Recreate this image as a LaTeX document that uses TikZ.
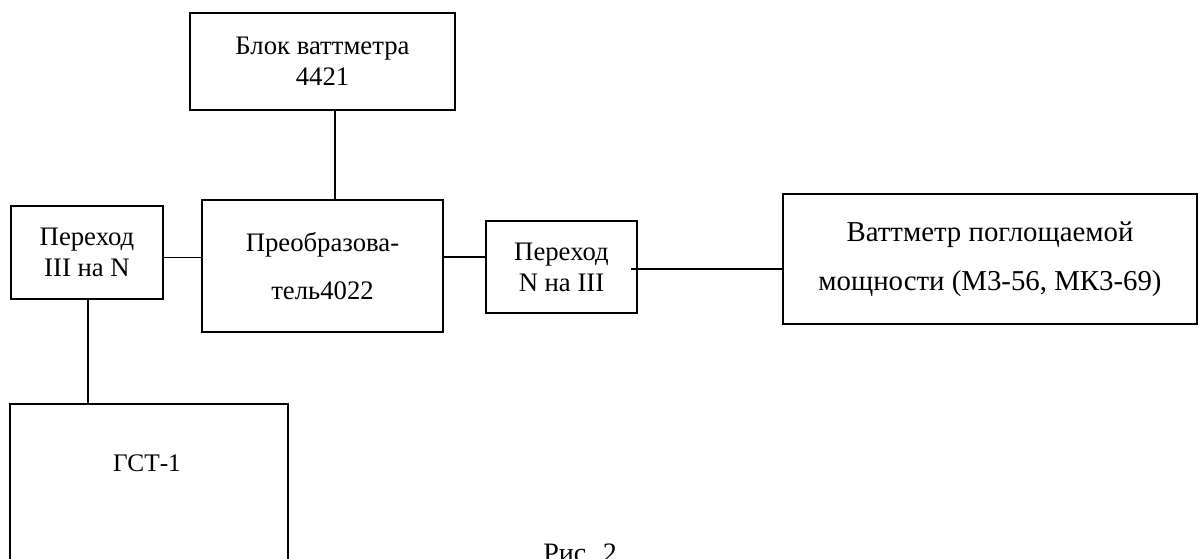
\documentclass[tikz,border=0pt]{standalone}
\usepackage{fontspec}
\setmainfont{Liberation Serif}
\usetikzlibrary{calc}

\begin{document}
\begin{tikzpicture}[x=0.025cm, y=-0.025cm,
    box/.style={draw, line width=1.1pt, inner sep=0pt, align=center,
        font=\fontsize{19}{22}\selectfont},
    wire/.style={line width=1.1pt}]
    % Page frame
    \clip (0,0) rectangle (1199,559);

    % Upper block
    \node[box, minimum width=6.625cm, minimum height=2.425cm] (blok) at (322.5,61.5)
        {Блок ваттметра\\4421};

    % Middle row
    \node[box, minimum width=3.8cm, minimum height=2.325cm] (perA) at (87,252.5)
        {Переход\\III на N};
    \node[box, minimum width=6.025cm, minimum height=3.3cm] (preob) at (322.5,266)
        {Преобразова-\\[12pt]тель4022};
    \node[box, minimum width=3.775cm, minimum height=2.3cm] (perB) at (561.5,267)
        {Переход\\N на III};
    \node[box, minimum width=10.35cm, minimum height=3.25cm,
        font=\fontsize{20.5}{24}\selectfont] (watt) at (990,259)
        {Ваттметр поглощаемой\\[11pt]мощности (М3-56, МК3-69)};

    % Generator
    \node[box, minimum width=6.95cm, minimum height=5.5cm] (gst) at (149,514) {};
    \node[font=\fontsize{18}{22}\selectfont] (gstname) at (147,463) {ГСТ-1};

    % Connections
    \draw[wire] (blok.south -| 335,0) -- (preob.north -| 335,0);
    \draw[wire] ($(perA.east)+(0,5)$) -- ($(perA.east -| preob.west)+(0,5)$);
    \draw[wire] ($(preob.east)+(0,-9)$) -- ($(preob.east -| perB.west)+(0,-9)$);
    \draw[wire] ($(perB.east)+(-7,2)$) -- ($(perB.east -| watt.west)+(0,2)$);
    \draw[wire] (perA.south -| 88,0) -- (gst.north -| 88,0);

    % Caption
    \node[anchor=base west, inner sep=0pt, font=\fontsize{20}{22}\selectfont] (caption) at (543,562) {Рис. 2};
\end{tikzpicture}
\end{document}
